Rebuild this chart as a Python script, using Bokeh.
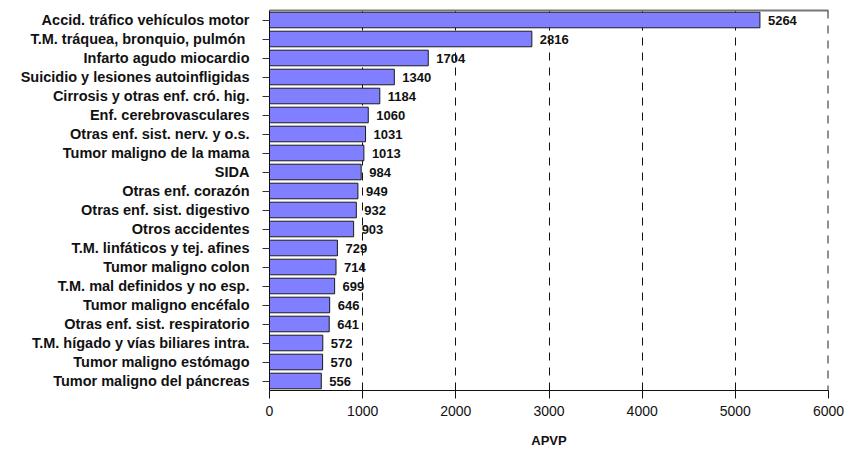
from bokeh.plotting import figure
from bokeh.models import FactorRange, Range1d, ColumnDataSource, LinearAxis, FixedTicker, Span
from bokeh.core.properties import value
from bokeh.embed import file_html
from bokeh.resources import INLINE

categories = [
    "Accid. tráfico vehículos motor",
    "T.M. tráquea, bronquio,  pulmón",
    "Infarto agudo miocardio",
    "Suicidio y lesiones autoinfligidas",
    "Cirrosis y otras enf. cró. hig.",
    "Enf. cerebrovasculares",
    "Otras enf. sist. nerv. y o.s.",
    "Tumor maligno de la mama",
    "SIDA",
    "Otras enf. corazón",
    "Otras enf. sist. digestivo",
    "Otros accidentes",
    "T.M. linfáticos y tej. afines",
    "Tumor maligno colon",
    "T.M. mal definidos y no esp.",
    "Tumor maligno encéfalo",
    "Otras enf. sist. respiratorio",
    "T.M. hígado y vías biliares intra.",
    "Tumor maligno estómago",
    "Tumor maligno del páncreas",
]
apvp = [5264, 2816, 1704, 1340, 1184, 1060, 1031, 1013, 984, 949,
        932, 903, 729, 714, 699, 646, 641, 572, 570, 556]
x_ticks = [0, 1000, 2000, 3000, 4000, 5000, 6000]
x_label = "APVP"

FONT = "Liberation Sans"

src = ColumnDataSource(dict(cat=categories, val=apvp, lab=[str(v) for v in apvp]))

p = figure(
    width=847, height=452,
    y_range=FactorRange(*reversed(categories)),
    x_range=Range1d(x_ticks[0], x_ticks[-1]),
    output_backend="svg", toolbar_location=None,
    min_border_left=269, min_border_right=19, min_border_top=10, min_border_bottom=62,
)
p.outline_line_color = None
p.background_fill_color = "white"
p.border_fill_color = "white"

# grid
p.ygrid.grid_line_color = None
p.xgrid.grid_line_color = "#111111"
p.xgrid.grid_line_dash = "8 7"
p.xgrid.grid_line_width = 1
p.xgrid.ticker = FixedTicker(ticks=x_ticks[1:])

right_edge = Span(location=x_ticks[-1], dimension="height", line_color="#222222",
                  line_dash="8 7", line_width=2)
p.add_layout(right_edge)

p.hbar(y="cat", right="val", left=0, height=0.82, source=src,
       fill_color="#7f7fff", line_color="#1a1a1a", line_width=1)

p.text(x="val", y="cat", text="lab", source=src, x_offset=8,
       text_baseline="middle", text_align="left",
       text_font=value(FONT), text_font_style="bold", text_font_size="13px",
       text_color="#111111")

# x axis
xa = p.xaxis[0]
xa.ticker = FixedTicker(ticks=x_ticks)
xa.axis_line_color = "#111111"
xa.major_tick_line_color = "#111111"
xa.major_tick_out = 8
xa.major_tick_in = 0
xa.minor_tick_line_color = None
xa.major_label_text_font = FONT
xa.major_label_text_font_size = "14px"
xa.major_label_text_color = "#111111"
xa.major_label_standoff = 7
xa.axis_label = x_label
xa.axis_label_text_font = FONT
xa.axis_label_text_font_style = "bold"
xa.axis_label_text_font_size = "13px"
xa.axis_label_text_color = "#111111"
xa.axis_label_standoff = 14

# y axis
ya = p.yaxis[0]
ya.axis_line_color = "#111111"
ya.major_tick_line_color = "#333333"
ya.major_tick_out = 7
ya.major_tick_in = 0
ya.minor_tick_line_color = None
ya.major_label_text_font = FONT
ya.major_label_text_font_style = "bold"
ya.major_label_text_font_size = "14.5px"
ya.major_label_text_color = "#111111"
ya.major_label_standoff = 13

# top border
top = LinearAxis(major_tick_line_color=None, minor_tick_line_color=None,
                 major_label_text_font_size="0px", axis_line_color="#777777",
                 axis_line_width=2)
top.ticker = FixedTicker(ticks=[])
p.add_layout(top, "above")

open("out.html", "w").write(file_html(p, INLINE))
